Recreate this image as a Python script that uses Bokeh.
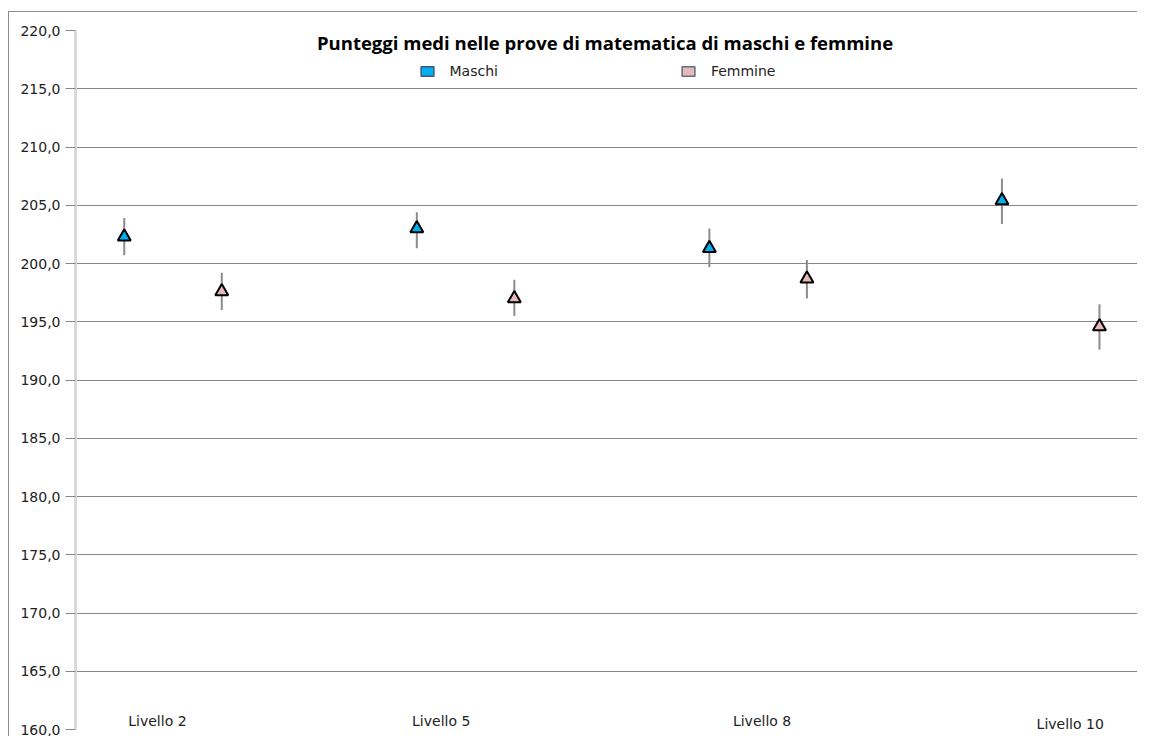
from bokeh.plotting import figure
from bokeh.models import FixedTicker, Label, Legend, LegendItem, ColumnDataSource
from bokeh.embed import file_html
from bokeh.resources import INLINE

# ---- data ----
levels = ["Livello 2", "Livello 5", "Livello 8", "Livello 10"]
maschi_x = [1, 4, 7, 10]
femmine_x = [2, 5, 8, 11]
maschi = [202.3, 203.0, 201.3, 205.4]
maschi_lo = [200.7, 201.3, 199.7, 203.4]
maschi_hi = [203.9, 204.4, 203.0, 207.3]
femmine = [197.6, 197.0, 198.7, 194.6]
femmine_lo = [196.0, 195.5, 197.0, 192.6]
femmine_hi = [199.2, 198.6, 200.3, 196.5]
y_ticks = [160, 165, 170, 175, 180, 185, 190, 195, 200, 205, 210, 215, 220]
y_tick_labels = ["160,0", "165,0", "170,0", "175,0", "180,0", "185,0", "190,0",
                 "195,0", "200,0", "205,0", "210,0", "215,0", "220,0"]
title_text = "Punteggi medi nelle prove di matematica di maschi e femmine"
series_names = ["Maschi", "Femmine"]

# label anchor positions (layout)
level_label_x = [1.34, 4.25, 7.54, 10.7]
level_label_y = [160.7, 160.7, 160.7, 160.45]

MASCHI_FILL = "#00B0F0"
FEMMINE_FILL = "#E6B9B8"
NAN = float("nan")

p = figure(width=1137, height=736, x_range=(0.5, 11.39), y_range=(160, 220),
           output_backend="svg", toolbar_location=None,
           min_border_left=75, min_border_right=0, min_border_top=30, min_border_bottom=7)
p.outline_line_color = None
p.background_fill_color = "white"
p.border_fill_color = "white"

# outer chart border (top and left edges), drawn over the canvas with CSS
p.stylesheets = [":host::after { content: ''; position: absolute; left: 8px; top: 11px; "
                 "right: 0; bottom: 0; border-top: 1px solid #8c8c8c; "
                 "border-left: 1px solid #8c8c8c; pointer-events: none; z-index: 10; }"]

p.xaxis.visible = False
p.xgrid.visible = False

yax = p.yaxis[0]
yax.ticker = FixedTicker(ticks=y_ticks)
yax.major_label_overrides = {t: l for t, l in zip(y_ticks, y_tick_labels)}
yax.axis_line_color = "#d9d9d9"
yax.axis_line_width = 3
yax.major_tick_in = 0
yax.major_tick_out = 10
yax.major_tick_line_color = "#878787"
yax.minor_tick_line_color = None
yax.major_label_standoff = 5
yax.major_label_text_font = "DejaVu Sans"
yax.major_label_text_font_size = "14px"
yax.major_label_text_color = "#222222"

p.ygrid.ticker = FixedTicker(ticks=y_ticks)
p.ygrid.grid_line_color = "#878787"
p.ygrid.grid_line_width = 1

ms = ColumnDataSource(dict(x=maschi_x, y=maschi, lo=maschi_lo, hi=maschi_hi))
fs = ColumnDataSource(dict(x=femmine_x, y=femmine, lo=femmine_lo, hi=femmine_hi))

for src in (ms, fs):
    p.segment(x0="x", y0="lo", x1="x", y1="hi", source=src,
              line_color="#8c8c8c", line_width=2)

p.scatter(x="x", y="y", source=ms, marker="triangle", size=13,
          fill_color=MASCHI_FILL, line_color="black", line_width=2)
p.scatter(x="x", y="y", source=fs, marker="triangle", size=13,
          fill_color=FEMMINE_FILL, line_color="black", line_width=2)

# legend swatches (rectangles, no visible data)
r_m = p.quad(left=[NAN], right=[NAN], top=[NAN], bottom=[NAN], fill_color=MASCHI_FILL,
             line_color="#3b5a7a", line_width=1.5)
r_f = p.quad(left=[NAN], right=[NAN], top=[NAN], bottom=[NAN], fill_color=FEMMINE_FILL,
             line_color="#5a6e8a", line_width=1.5)
legend = Legend(items=[LegendItem(label=series_names[0], renderers=[r_m]),
                       LegendItem(label=series_names[1], renderers=[r_f])],
                orientation="horizontal", location=(343.5, 650),
                glyph_width=16, glyph_height=12, label_standoff=15, spacing=182,
                padding=0, margin=0, border_line_color=None,
                background_fill_alpha=0, label_text_font="DejaVu Sans",
                label_text_font_size="14px", label_text_color="#222222",
                label_height=12)
p.add_layout(legend, "center")

p.add_layout(Label(x=5.93, y=218.97, text=title_text, text_font="Open Sans",
                   text_font_style="bold", text_font_size="18.5px",
                   text_align="center", text_baseline="middle", text_color="black"))

for lx, ly, name in zip(level_label_x, level_label_y, levels):
    p.add_layout(Label(x=lx, y=ly, text=name, text_font="DejaVu Sans",
                       text_font_size="14px", text_align="center",
                       text_baseline="middle", text_color="#222222"))

open("out.html", "w").write(file_html(p, INLINE))
